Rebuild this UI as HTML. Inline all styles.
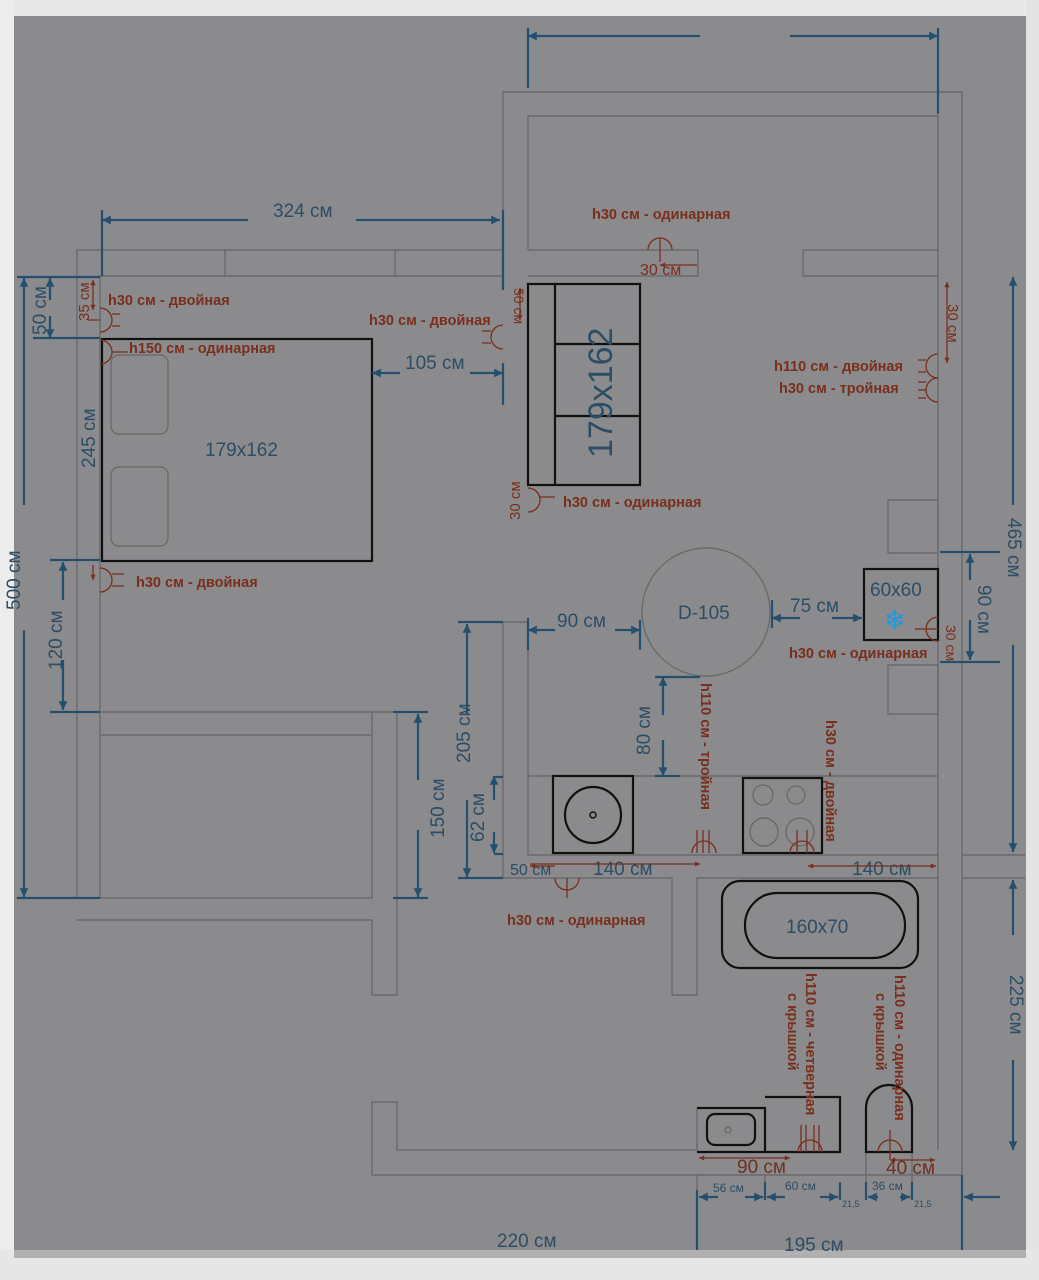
<!DOCTYPE html>
<html><head><meta charset="utf-8"><style>
html,body{margin:0;padding:0;background:#fff}
svg{display:block}
.w{fill:none;stroke:#6a6a6e;stroke-width:1.4}
.f{fill:none;stroke:#111;stroke-width:2.2}
.d{stroke:#244f6e;stroke-width:2.2;fill:none}
.t{fill:#2c4d66;font-family:"Liberation Sans",sans-serif;font-size:19px}
.r{fill:#7a2e1c;font-family:"Liberation Sans",sans-serif;font-size:14.5px;font-weight:bold}
.rl{stroke:#7a2e1c;stroke-width:1.3;fill:none}
</style></head><body>
<svg width="1039" height="1280" viewBox="0 0 1039 1280" xmlns="http://www.w3.org/2000/svg">
<defs>
<marker id="a" viewBox="0 0 10 10" refX="10" refY="5" markerWidth="5" markerHeight="4" orient="auto-start-reverse"><path d="M0,0L10,5L0,10z" fill="#244f6e"/></marker>
<marker id="ra" viewBox="0 0 10 10" refX="10" refY="5" markerWidth="5" markerHeight="4" orient="auto-start-reverse"><path d="M0,0L10,5L0,10z" fill="#7a2e1c"/></marker>
</defs>
<rect width="1039" height="1280" fill="#8b8b8d"/>
<rect x="0" y="0" width="1039" height="16" fill="#e8e8e8"/>
<rect x="0" y="0" width="14" height="1280" fill="#ececec"/>
<rect x="1026" y="0" width="13" height="1280" fill="#e4e4e4"/>
<rect x="0" y="1250" width="1039" height="30" fill="#e6e6e6"/>
<rect x="14" y="1250" width="1012" height="8" fill="#b0b0b0"/>

<g class="w">
<path d="M503,250V92H962V1175"/>
<path d="M528,250V116H938V276"/>
<path d="M528,250H698V276H528M503,250H395V276H503"/>
<path d="M803,250H938M803,276H938M803,250V276"/>
<path d="M77,250H225V276H100V898H77Z"/>
<path d="M225,276H395M225,250H395"/>
<path d="M100,712H372V898H100M100,735H372M372,712H397V995H372V920H77"/>
<path d="M503,622H528V855H938M503,622V878H672V995H697V878H938"/>
<path d="M938,276V1150M962,855H1025M962,878H1025"/>
<path d="M397,1102H372V1175H962M397,1102V1150H697V1108M697,1175V1250M765,1175V1200M866,1152V1200M912,1152V1200"/>
<path d="M528,776H938"/>
<path d="M888,500H938V553H888ZM888,665H938V714H888Z"/>
</g>

<g class="f">
<rect x="102" y="339" width="270" height="222"/>
<rect x="528" y="284" width="112" height="201"/>
<path d="M555,284V485M555,344H640M555,416H640"/>
<rect x="864" y="569" width="74" height="71"/>
<rect x="553" y="776" width="80" height="77"/>
<circle cx="593" cy="815" r="28"/>
<circle cx="593" cy="815" r="3" stroke-width="1.5"/>
<rect x="743" y="778" width="79" height="75"/>
<rect x="722" y="881" width="196" height="87" rx="18"/>
<rect x="745" y="893" width="160" height="65" rx="32"/>
<path d="M697,1108H765V1152H697M765,1097H840V1152H765"/>
<rect x="707" y="1114" width="48" height="31" rx="8"/>
<path d="M866,1152V1108A23,23 0 0 1 912,1108V1152Z"/>
</g>
<g fill="none" stroke="#666" stroke-width="1.2">
<rect x="111" y="355" width="57" height="79" rx="8"/>
<rect x="111" y="467" width="57" height="79" rx="8"/>
<circle cx="706" cy="612" r="64"/>
<circle cx="763" cy="795" r="10"/><circle cx="796" cy="795" r="9"/>
<circle cx="764" cy="832" r="14"/><circle cx="800" cy="832" r="14"/>
<circle cx="728" cy="1130" r="3"/>
</g>

<g class="d">
<path d="M528,36H700" marker-start="url(#a)"/><path d="M790,36H938" marker-end="url(#a)"/>
<path d="M528,28V88M938,28V114"/>
<path d="M102,220H248" marker-start="url(#a)"/><path d="M356,220H500" marker-end="url(#a)"/>
<path d="M102,210V276M503,210V290"/>
<path d="M17,277H100M33,338H100M50,560H100M50,712H100M17,898H100"/>
<path d="M24,278V505" marker-start="url(#a)"/>
<path d="M24,630V897" marker-end="url(#a)"/>
<path d="M50,278V300" marker-start="url(#a)"/><path d="M50,316V338" marker-end="url(#a)"/>
<path d="M63,562V600" marker-start="url(#a)"/><path d="M63,660V710" marker-end="url(#a)"/>
<path d="M372,373H400" marker-start="url(#a)"/><path d="M470,373H503" marker-end="url(#a)"/>
<path d="M503,363V405"/>
<path d="M528,630H555" marker-start="url(#a)"/><path d="M615,630H640" marker-end="url(#a)"/>
<path d="M528,618V650M640,620V650M772,600V628"/>
<path d="M772,618H800" marker-start="url(#a)"/><path d="M832,618H862" marker-end="url(#a)"/>
<path d="M663,677V715" marker-start="url(#a)"/><path d="M663,740V776" marker-end="url(#a)"/>
<path d="M655,677H700M655,776H680"/>
<path d="M458,622H503M458,878H503"/>
<path d="M467,624V715" marker-start="url(#a)"/><path d="M467,800V877" marker-end="url(#a)"/>
<path d="M494,776V800" marker-start="url(#a)"/><path d="M494,832V853" marker-end="url(#a)"/>
<path d="M494,777H503M494,854H503"/>
<path d="M393,712H428M393,898H428"/>
<path d="M418,714V780" marker-start="url(#a)"/><path d="M418,830V897" marker-end="url(#a)"/>
<path d="M940,552H1000M940,662H1000"/>
<path d="M970,554V580" marker-start="url(#a)"/><path d="M970,620V660" marker-end="url(#a)"/>
<path d="M1013,277V505" marker-start="url(#a)"/><path d="M1013,645V852" marker-end="url(#a)"/>
<path d="M1013,880V935" marker-start="url(#a)"/><path d="M1013,1060V1150" marker-end="url(#a)"/>
<path d="M697,1190V1250M765,1182V1200M840,1182V1200M866,1182V1200M912,1182V1200M962,1175V1250"/>
<path d="M699,1197H718" marker-start="url(#a)"/><path d="M745,1197H763" marker-end="url(#a)"/>
<path d="M767,1197H785" marker-start="url(#a)"/><path d="M820,1197H838" marker-end="url(#a)"/>
<path d="M868,1197H878" marker-start="url(#a)"/><path d="M900,1197H910" marker-end="url(#a)"/>
<path d="M964,1197H1000" marker-start="url(#a)"/>
</g>

<text class="t" x="273" y="217">324 см</text>
<text class="t" x="405" y="369">105 см</text>
<text class="t" x="205" y="456">179x162</text>
<text class="t" x="557" y="627">90 см</text>
<text class="t" x="678" y="619">D-105</text>
<text class="t" x="790" y="612">75 см</text>
<text class="t" x="870" y="596">60x60</text>
<text class="t" x="786" y="933">160x70</text>
<text class="t" x="593" y="875">140 см</text>
<text class="t" x="852" y="875">140 см</text>
<text class="t" x="497" y="1247">220 см</text>
<text class="t" x="784" y="1251">195 см</text>
<text class="t" x="510" y="875" style="font-size:16px">50 см</text>
<text class="t" x="737" y="1173" style="fill:#6f3020">90 см</text>
<text class="t" x="886" y="1174" style="fill:#6f3020">40 см</text>
<text class="t" x="713" y="1192" style="font-size:12px">56 см</text>
<text class="t" x="785" y="1190" style="font-size:12px">60 см</text>
<text class="t" x="872" y="1190" style="font-size:12px">36 см</text>
<text class="t" x="842" y="1207" style="font-size:9px">21,5</text>
<text class="t" x="914" y="1207" style="font-size:9px">21,5</text>
<text class="t" transform="translate(612,458) rotate(-90)" style="font-size:34px">179x162</text>
<text class="t" transform="translate(46,335) rotate(-90)">50 см</text>
<text class="t" transform="translate(95,468) rotate(-90)">245 см</text>
<text class="t" transform="translate(20,610) rotate(-90)">500 см</text>
<text class="t" transform="translate(62,670) rotate(-90)">120 см</text>
<text class="t" transform="translate(444,838) rotate(-90)">150 см</text>
<text class="t" transform="translate(470,763) rotate(-90)">205 см</text>
<text class="t" transform="translate(484,842) rotate(-90)">62 см</text>
<text class="t" transform="translate(650,755) rotate(-90)">80 см</text>
<text class="t" transform="translate(1008,518) rotate(90)">465 см</text>
<text class="t" transform="translate(978,585) rotate(90)">90 см</text>
<text class="t" transform="translate(1010,975) rotate(90)">225 см</text>
<text fill="#1a9ad8" font-size="26" x="884" y="629" font-family="DejaVu Sans,sans-serif">❄</text>

<text class="r" x="108" y="305">h30 см - двойная</text>
<text class="r" x="129" y="353">h150 см - одинарная</text>
<text class="r" x="136" y="587">h30 см - двойная</text>
<text class="r" x="369" y="325">h30 см - двойная</text>
<text class="r" x="592" y="219">h30 см - одинарная</text>
<text class="r" x="640" y="275" style="font-weight:normal;font-size:16px">30 см</text>
<text class="r" x="774" y="371">h110 см - двойная</text>
<text class="r" x="779" y="393">h30 см - тройная</text>
<text class="r" x="563" y="507">h30 см - одинарная</text>
<text class="r" x="789" y="658">h30 см - одинарная</text>
<text class="r" x="507" y="925">h30 см - одинарная</text>
<text class="r" transform="translate(89,321) rotate(-90)" style="font-weight:normal;font-size:15px">35 см</text>
<text class="r" transform="translate(514,288) rotate(90)" style="font-weight:normal;font-size:14px">50 см</text>
<text class="r" transform="translate(520,520) rotate(-90)" style="font-weight:normal;font-size:15px">30 см</text>
<text class="r" transform="translate(948,304) rotate(90)" style="font-weight:normal;font-size:15px">30 см</text>
<text class="r" transform="translate(946,625) rotate(90)" style="font-weight:normal;font-size:14px">30 см</text>
<text class="r" transform="translate(701,683) rotate(90)">h110 см - тройная</text>
<text class="r" transform="translate(826,720) rotate(90)">h30 см - двойная</text>
<text class="r" transform="translate(806,973) rotate(90)">h110 см - четверная</text>
<text class="r" transform="translate(788,993) rotate(90)">с крышкой</text>
<text class="r" transform="translate(895,975) rotate(90)">h110 см - одинарная</text>
<text class="r" transform="translate(876,993) rotate(90)">с крышкой</text>

<g class="rl">
<path d="M100,308A12,12 0 0 1 100,332M112,314H120M112,326H120M88,320H100"/>
<path d="M100,340A12,12 0 0 1 100,364M112,352H128"/>
<path d="M100,568A12,12 0 0 1 100,592M112,574H124M112,586H124"/>
<path d="M503,325A12,12 0 0 0 503,349M491,331H482M491,343H482"/>
<path d="M648,250A12,12 0 0 1 672,250M660,238V262"/>
<path d="M938,354A12,12 0 0 0 938,378M926,360H918M926,372H918"/>
<path d="M938,378A12,12 0 0 0 938,402M926,382H918M926,390H918M926,398H918"/>
<path d="M528,488A12,12 0 0 1 528,512M540,497H555"/>
<path d="M938,617A12,12 0 0 0 938,641M915,629H938"/>
<path d="M692,853A12,12 0 0 1 716,853M697,830V853M703,830V853M709,830V853"/>
<path d="M790,853A12,12 0 0 1 814,853M797,830V853M807,830V853"/>
<path d="M555,878A12,12 0 0 0 579,878M567,878V898"/>
<path d="M798,1152A12,12 0 0 1 822,1152M801,1125V1152M806,1125V1152M814,1125V1152M819,1125V1152"/>
<path d="M878,1152A12,12 0 0 1 902,1152M890,1130V1160"/>
</g>
<g class="rl">
<path d="M93,280V310" marker-start="url(#ra)" marker-end="url(#ra)"/>
<path d="M93,565V580" marker-end="url(#ra)"/>
<path d="M520,288V320" marker-start="url(#ra)" marker-end="url(#ra)"/>
<path d="M660,265H697" marker-start="url(#ra)"/>
<path d="M947,282V363" marker-start="url(#ra)" marker-end="url(#ra)"/>
<path d="M530,866H555" marker-start="url(#ra)"/>
<path d="M530,864H700" marker-end="url(#ra)"/>
<path d="M808,866H936" marker-start="url(#ra)" marker-end="url(#ra)"/>
<path d="M699,1158H790" marker-start="url(#ra)" marker-end="url(#ra)"/>
<path d="M890,1160H935" marker-start="url(#ra)" marker-end="url(#ra)"/>
</g>
</svg>
</body></html>
